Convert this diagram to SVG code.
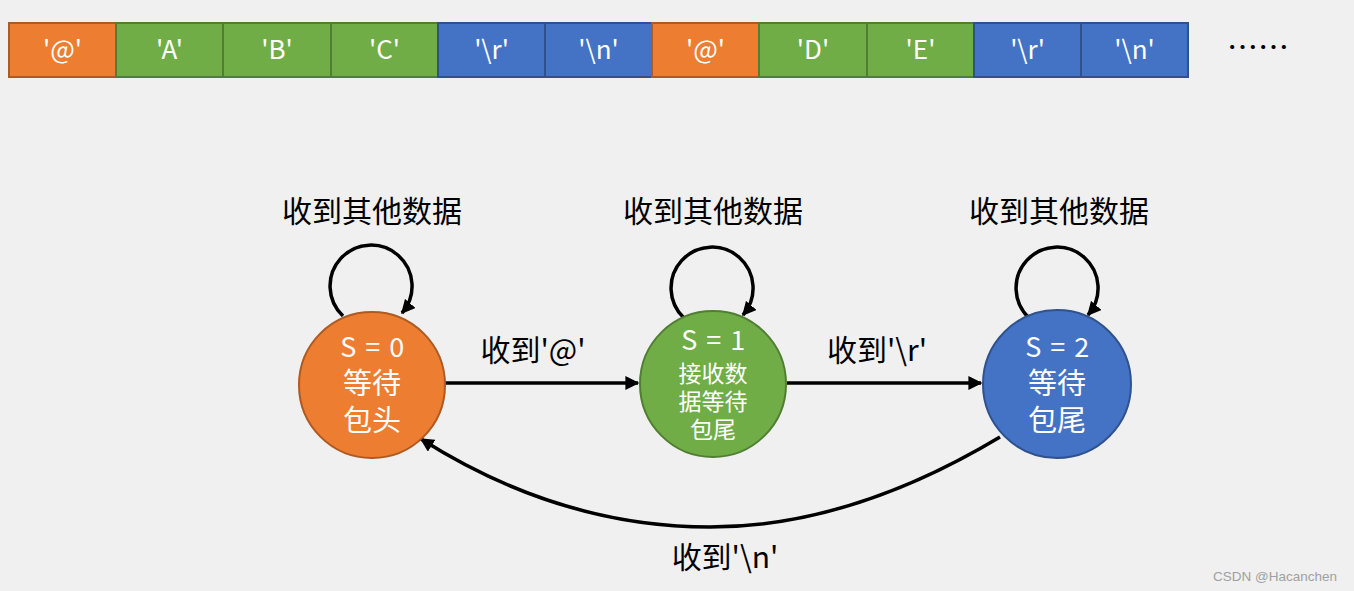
<svg xmlns="http://www.w3.org/2000/svg" width="1354" height="591" viewBox="0 0 1354 591">
<defs>
<marker id="ah" viewBox="0 0 10 10" refX="9" refY="5" markerWidth="4" markerHeight="4" orient="auto" markerUnits="strokeWidth"><path d="M0,0 L10,5 L0,10 Z" fill="#000"/></marker>
<style>
.cell text,.node text{fill:#fff;font-family:"Noto Sans CJK SC","Noto Sans",sans-serif;text-anchor:middle}
.o{fill:#ED7D31;stroke:#AE5A21;stroke-width:2}
.g{fill:#70AD47;stroke:#507E32;stroke-width:2}
.b{fill:#4472C4;stroke:#2F528F;stroke-width:2}
.ct{font-size:26px}
.st{font-size:27px;letter-spacing:1.5px}
.big{font-size:29px}
.sm{font-size:23px}
.lbl{font-family:"Noto Sans CJK SC",sans-serif;font-size:30px;fill:#000;text-anchor:middle}
.edge{fill:none;stroke:#000;stroke-width:3.5;marker-end:url(#ah)}
</style>
</defs>
<rect width="1354" height="591" fill="#f0f0f0"/>
<g id="tape">
<g class="cell"><rect class="o" x="9" y="23" width="107" height="54"/><text class="ct" x="62.5" y="59">'@'</text></g>
<g class="cell"><rect class="g" x="116" y="23" width="107" height="54"/><text class="ct" x="169.5" y="59">'A'</text></g>
<g class="cell"><rect class="g" x="223" y="23" width="108" height="54"/><text class="ct" x="277" y="59">'B'</text></g>
<g class="cell"><rect class="g" x="331" y="23" width="107" height="54"/><text class="ct" x="384.5" y="59">'C'</text></g>
<g class="cell"><rect class="b" x="438" y="23" width="107" height="54"/><text class="ct" x="491.5" y="59">'\r'</text></g>
<g class="cell"><rect class="b" x="545" y="23" width="107" height="54"/><text class="ct" x="598.5" y="59">'\n'</text></g>
<g class="cell"><rect class="o" x="652" y="23" width="107" height="54"/><text class="ct" x="705.5" y="59">'@'</text></g>
<g class="cell"><rect class="g" x="759" y="23" width="108" height="54"/><text class="ct" x="813" y="59">'D'</text></g>
<g class="cell"><rect class="g" x="867" y="23" width="107" height="54"/><text class="ct" x="920.5" y="59">'E'</text></g>
<g class="cell"><rect class="b" x="974" y="23" width="107" height="54"/><text class="ct" x="1027.5" y="59">'\r'</text></g>
<g class="cell"><rect class="b" x="1081" y="23" width="107" height="54"/><text class="ct" x="1134.5" y="59">'\n'</text></g>
<text x="1258" y="58" font-family="Noto Sans CJK SC,sans-serif" font-size="31" text-anchor="middle" fill="#000">……</text>
</g>
<g id="connectors">
<path class="edge" d="M343,316 A41,41 0 1 1 402,313"/>
<path class="edge" d="M684,318 A41,41 0 1 1 743,315"/>
<path class="edge" d="M1029,318 A41,41 0 1 1 1088,315"/>
<path class="edge" d="M445,383 L638,383"/>
<path class="edge" d="M787,383 L981,383"/>
<path class="edge" d="M1000,437 Q850,527 710,527 Q560,527 421,439"/>
<text class="lbl" x="372" y="222">收到其他数据</text>
<text class="lbl" x="713" y="222">收到其他数据</text>
<text class="lbl" x="1059" y="222">收到其他数据</text>
<text class="lbl" x="533" y="361">收到'@'</text>
<text class="lbl" x="877" y="361">收到'\r'</text>
<text class="lbl" x="725" y="568">收到'\n'</text>
</g>
<g id="s0" class="node"><circle class="o" cx="372" cy="385" r="73"/><text class="st" x="373" y="357">S = 0</text><text class="big" x="372" y="394">等待</text><text class="big" x="372" y="431">包头</text></g>
<g id="s1" class="node"><circle class="g" cx="713" cy="384" r="73"/><text class="st" x="714" y="350">S = 1</text><text class="sm" x="713" y="382">接收数</text><text class="sm" x="713" y="410">据等待</text><text class="sm" x="713" y="438">包尾</text></g>
<g id="s2" class="node"><circle class="b" cx="1057" cy="384" r="74"/><text class="st" x="1058" y="357">S = 2</text><text class="big" x="1057" y="394">等待</text><text class="big" x="1057" y="431">包尾</text></g>
<text x="1275" y="581" font-family="Liberation Sans,sans-serif" font-size="13.5" fill="#a0a0a0" text-anchor="middle">CSDN @Hacanchen</text>
</svg>
